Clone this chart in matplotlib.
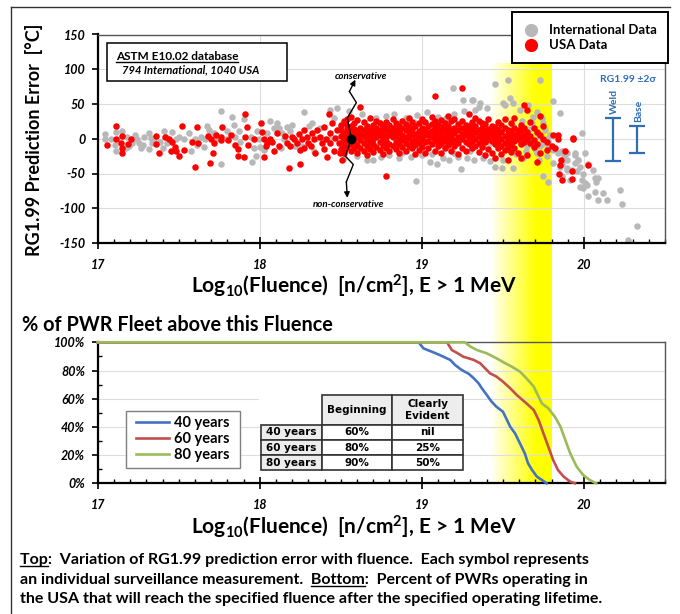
import matplotlib
matplotlib.use('Agg')
import matplotlib.pyplot as plt
import numpy as np
from matplotlib.colors import LinearSegmentedColormap
from matplotlib.lines import Line2D
from matplotlib.patches import Rectangle

plt.rcParams['font.family'] = ['Lato', 'DejaVu Sans']
plt.rcParams['mathtext.default'] = 'regular'

# ---------------- top panel: RG1.99 prediction error vs log10 fluence
# international data (x = log10 fluence, y = error degC)
intl_pts = [
    (17.045, 7), (17.045, -1), (17.08, 0), (17.115, 9), (17.115, -18), (17.148, 11),
    (17.183, 3), (17.214, -6), (17.23, 6), (17.245, -1), (17.255, -6), (17.265, -13),
    (17.28, -9), (17.285, 3), (17.316, 8), (17.326, 1), (17.333, -6), (17.316, -15),
    (17.347, -1), (17.382, -4), (17.409, 11), (17.419, 3), (17.43, -6), (17.46, 9),
    (17.48, -1), (17.532, -1), (17.563, 8), (17.573, -18), (17.6, -1), (17.614, -9),
    (17.635, 3), (17.655, -12), (17.676, 18), (17.686, 13), (17.717, 8), (17.737, 1),
    (17.758, 40), (17.758, -37), (17.665, -1), (17.5, 3), (17.193, -11), (17.107, -9),
    (17.173, -13), (17.4, -13),
    (17.799, 11), (17.799, -1), (17.83, 32), (17.84, 20), (17.85, 3), (17.87, 11),
    (17.88, -4), (17.9, 28), (17.943, 2), (17.963, -14), (17.974, -25), (17.953, -33),
    (17.984, 11), (17.994, -1), (18.004, -12), (18.066, 26), (18.087, 15), (18.107, 23),
    (18.117, 15), (18.138, 8), (18.148, -1), (18.169, 17), (18.189, 11), (18.2, 20),
    (18.22, -11), (18.26, -10), (18.271, 39), (18.302, 18), (18.323, 23), (18.354, 1),
    (18.374, 15), (18.436, 42), (18.456, 30), (18.477, 44), (18.497, 15), (18.333, -18),
    (18.425, -1), (18.128, -14), (18.045, 8), (18.025, -16),
    (18.52, -28), (18.55, 40), (18.6, -25), (18.63, 35), (18.66, -30), (18.70, -30),
    (18.72, 30), (18.75, -26), (18.78, 33), (18.8, -24), (18.83, 36), (18.86, -28),
    (18.9, 30), (18.914, 59), (18.93, -26), (18.965, -61), (18.97, 34), (19.0, -24),
    (19.03, 38), (19.05, -33), (19.093, -36), (19.1, 32), (19.13, -27), (19.15, 30),
    (19.165, -30), (19.19, 73), (19.2, 36), (19.22, -26), (19.24, -44), (19.253, 56),
    (19.26, 40), (19.28, -28), (19.31, 56), (19.32, -30), (19.33, 42), (19.35, 46),
    (19.36, 51), (19.38, -27), (19.4, 44), (19.42, -32), (18.68, -18), (18.88, -20),
    (19.06, -22), (19.2, -20), (19.3, -18), (18.74, 22), (18.95, 24), (19.12, 25),
    (19.452, 79), (19.534, 85), (19.729, 84), (19.318, 56), (19.503, 51), (19.514, 49),
    (19.544, 58), (19.565, 52), (19.606, 42), (19.657, 49), (19.709, 39), (19.688, 32),
    (19.811, 55), (19.853, 37), (19.986, 8), (20.007, -21), (19.945, -23), (19.965, -30),
    (20.027, -37), (20.058, -45), (20.089, -57), (19.976, -69), (20.017, -66), (19.853, -40),
    (19.894, -45), (19.914, -59), (19.781, -62), (19.75, -54), (19.565, -42), (19.493, -42),
    (19.452, -40), (19.503, -30), (19.627, -28), (19.709, -21), (19.77, -25), (19.729, -11),
    (19.77, -1), (19.75, 23), (19.709, 8), (19.668, 3), (19.606, -4), (19.647, -11),
    (19.544, -16), (19.421, -6), (19.38, -11), (19.339, 3), (19.493, 13), (19.565, 18),
    (19.811, -35), (19.842, -20), (19.894, -20), (19.924, -45), (19.811, -16),
    (19.6, 10), (19.62, 0), (19.64, -18), (19.66, 14), (19.68, -6), (19.7, -15),
    (19.72, 4), (19.74, -8), (19.76, 12), (19.78, -14), (19.79, 5), (19.58, -22),
    (19.56, 6), (19.68, 22), (19.72, -30), (19.62, 25), (19.74, 30), (19.78, -4),
    (19.863, -18), (19.874, -23), (19.894, -30), (19.945, -21), (19.966, -30), (19.945, -35),
    (19.976, -40), (19.956, -47), (19.997, -50), (19.986, -59), (20.007, -64), (19.997, -71),
    (20.069, -57), (20.075, -62), (20.12, -78), (20.089, -88), (20.028, -83), (20.069, -76),
    (20.14, -88), (20.223, -74), (20.233, -94), (20.325, -125), (20.274, -145), (19.863, -37),
    (19.894, -42), (19.863, -54),
]

# USA data, sparse part
usa_pts = [
    (17.115, 19), (17.06, -9), (17.115, 0), (17.146, -6), (17.15, 4), (17.148, -13),
    (17.15, -20), (17.185, -7), (17.205, 0), (17.36, 4), (17.36, -8), (17.38, -20),
    (17.415, 3), (17.44, 0), (17.46, -5), (17.475, -12), (17.45, -17), (17.48, -18),
    (17.5, -25), (17.52, 18), (17.53, -16), (17.58, -5), (17.6, -40), (17.61, 17),
    (17.62, -6), (17.68, 4), (17.70, 0), (17.71, -20), (17.69, -35), (17.72, -6),
    (17.73, 6), (17.76, -2),
    (17.768, 17), (17.762, 3), (17.803, -2), (17.82, 6), (17.85, -9), (17.865, -15),
    (17.865, -25), (17.91, 36), (17.92, 17), (17.91, 3), (17.93, -9), (17.9, -26),
    (17.963, -1), (18.008, 23), (18.015, 9), (18.025, -1), (18.04, -11), (18.045, -6),
    (18.066, -1), (18.029, -26), (18.076, -5), (18.087, -18), (18.107, 8), (18.117, -10),
    (18.158, 4), (18.169, -6), (18.179, -42), (18.189, -11), (18.2, 3), (18.214, -1),
    (18.23, -6), (18.24, 7), (18.25, -16), (18.25, -36), (18.26, -1), (18.271, 13),
    (18.271, -14), (18.292, 3), (18.296, -6), (18.313, -11), (18.323, 8), (18.333, -1),
    (18.343, -21), (18.354, 13), (18.374, 3), (18.384, -6), (18.395, 17), (18.399, -15),
    (18.411, 0), (18.415, -26), (18.425, 35), (18.436, 8), (18.436, -6), (18.446, 23),
    (18.456, -18), (18.467, 1), (18.477, 13), (18.487, -6), (18.497, -21), (18.508, -30),
    (18.518, -1), (18.528, 23), (18.538, 8), (18.522, -14),
    (19.80, -10), (19.811, 6), (19.822, -14), (19.842, 6), (19.842, -1), (19.853, -38),
    (19.848, -50), (19.863, -59), (20.028, -38), (19.935, 1), (19.93, -1), (19.925, -46),
    (19.925, -58), (19.88, -18), (19.86, -30),
]

# USA data, dense part: columns of (log10 fluence, errors)
usa_cols = [
    (18.50, [-6, 4, 12, -15, 20]), (18.52, [0, 8, -10, 25, -20]),
    (18.54, [5, -3, 15, -12, 28]), (18.56, [-8, 2, 10, 18, -18, 32]),
    (18.58, [6, -5, 22, -14, 0, 14]), (18.60, [3, -9, 11, 27, -20]),
    (18.62, [-2, 7, 16, -13, 46]), (18.64, [4, -6, 12, 24, -17]),
    (18.66, [-1, 9, 19, -11, -24]), (18.68, [6, -4, 14, 30, -15]),
    (18.70, [0, 10, -8, 20, -19]), (18.72, [3, -12, 16, 8, 26]),
    (18.74, [-5, 5, 12, -16, 22]), (18.76, [1, 9, -9, 18, -22]),
    (18.78, [4, -3, 14, -54, 24, -14]), (18.80, [-7, 6, 11, 20, -18]),
    (18.82, [2, -10, 16, 8, 28]), (18.84, [-4, 5, 13, -15, 23]),
    (18.86, [0, 10, -8, 18, -21]), (18.88, [6, -2, 15, 25, -12]),
    (18.90, [-6, 3, 12, -17, 21]), (18.92, [1, 9, -10, 17, 30]),
    (18.94, [5, -4, 14, -14, 24]), (18.96, [-2, 7, 19, -9, -22]),
    (18.98, [3, 11, -6, 22, -16]), (19.00, [0, 8, 16, -12, 28]),
    (19.02, [5, -5, 13, 24, -20]), (19.04, [-3, 6, 18, -14, 10]),
    (19.06, [2, 11, -8, 21, 31]), (19.08, [7, -2, 15, 61, -17, 26]),
    (19.10, [-4, 4, 12, 20, -11]), (19.12, [1, 9, -7, 17, 27, -21]),
    (19.14, [6, -3, 14, 23, -13]), (19.16, [0, 10, -9, 19, 33]),
    (19.18, [4, -5, 13, 25, -18]), (19.20, [-2, 8, 16, -10, 29]),
    (19.22, [3, 12, -6, 21, -22]), (19.25, [7, -1, 15, 73, -14, 26]),
    (19.27, [-4, 5, 12, 20, -18]), (19.29, [2, 10, -8, 18, 35]),
    (19.31, [6, -3, 14, 24, -13]), (19.33, [0, 9, -10, 19, 30]),
    (19.35, [4, -6, 13, 26, -19]), (19.37, [-2, 8, 16, -12, 22]),
    (19.39, [3, 11, -5, 21, -24]), (19.41, [7, -1, 14, -15, 28]),
    (19.43, [-3, 5, 12, 19, -20]), (19.45, [1, 9, -8, 17, -27]),
    (19.47, [5, -4, 13, 24, -14]), (19.49, [0, 10, -10, 20, -22]),
    (19.51, [4, -6, 15, 28, -16]), (19.53, [-2, 7, 12, -12, -30]),
    (19.55, [2, 11, -7, 22, -19]), (19.57, [6, -3, 16, -14, 30]),
    (19.59, [-1, 8, 13, -20, 3]), (19.61, [3, 12, -8, 20, -27]),
    (19.63, [49, 5, -4, 15]), (19.65, [0, 9, 42, -24]),
    (19.67, [4, -6, 24]), (19.69, [-2, 16, -12]),
    (19.71, [10, -8, -33]), (19.73, [6, -20, 33]),
    (19.75, [0, 18]), (19.77, [-5, -16]),
]

# RG1.99 +/- 2 sigma bars
sigma_names = ['Weld', 'Base']
sigma_x = [20.18, 20.325]
sigma_hi = [30, 19]
sigma_lo = [-32, -21]

# ---------------- bottom panel: % of PWR fleet above this fluence
fleet_labels = ['40 years', '60 years', '80 years']
fleet_colors = ['#4472C4', '#C0504D', '#9BBB59']
fleet_x = [
    [17.0, 18.98, 19.01, 19.06, 19.11, 19.175, 19.205, 19.245, 19.29, 19.32, 19.35, 19.37,
     19.40, 19.43, 19.46, 19.50, 19.52, 19.545, 19.575, 19.595, 19.615, 19.635, 19.655,
     19.68, 19.71, 19.74, 19.77],
    [17.0, 19.155, 19.185, 19.215, 19.255, 19.32, 19.36, 19.39, 19.42, 19.46, 19.50, 19.545,
     19.585, 19.645, 19.69, 19.72, 19.75, 19.78, 19.81, 19.84, 19.875, 19.915, 19.945],
    [17.0, 19.265, 19.30, 19.34, 19.40, 19.46, 19.515, 19.555, 19.605, 19.645, 19.69, 19.72,
     19.74, 19.78, 19.82, 19.855, 19.885, 19.915, 19.955, 19.995, 20.035, 20.075],
]
fleet_pct = [
    [100, 100, 95.7, 93.4, 91, 87.5, 83.9, 80.4, 77.6, 74.5, 70.9, 67.4, 62.7, 57.9, 54.3,
     50.8, 46.1, 40.1, 35.4, 30.7, 26, 21.2, 14.2, 9.4, 4.7, 2.4, 0],
    [100, 100, 94.5, 92.6, 89.8, 87.5, 85.1, 81.6, 78, 75.7, 72.1, 67.4, 62.7, 56.7, 52, 45,
     35.4, 26, 16.5, 9.4, 4.7, 1.2, 0],
    [100, 100, 96.9, 94.5, 92.2, 88.7, 85.1, 82.7, 79.2, 74.5, 68.6, 61.5, 56.7, 53.2, 47.3,
     40.2, 30.7, 21.3, 11.8, 5.9, 2.4, 0],
]

table_rows = ['40 years', '60 years', '80 years']
table_cols = ['Beginning', 'Clearly\nEvident']
table_cells = [['60%', 'nil'], ['80%', '25%'], ['90%', '50%']]

# yellow highlight band (log10 fluence) and its top in degC
band_lo, band_hi, band_top = 19.42, 19.80, 108

xticks = [17, 18, 19, 20]
err_ticks = [-150, -100, -50, 0, 50, 100, 150]
pct_ticks = [0, 20, 40, 60, 80, 100]

W, H = 680, 614
fig = plt.figure(figsize=(W / 100, H / 100), dpi=100)


def frac(l, t, r, b):
    return [l / W, 1 - b / H, (r - l) / W, (b - t) / H]


def fx(x, y):
    return x / W, 1 - y / H


ax1 = fig.add_axes(frac(97.7, 34.5, 665, 243))
ax2 = fig.add_axes(frac(97.7, 342.3, 665, 483.3))
for ax in (ax1, ax2):
    ax.set_facecolor('none')
    ax.set_xlim(17, 20.5)
    for s in ('left', 'bottom'):
        ax.spines[s].set_linewidth(1.6)
        ax.spines[s].set_color('black')
    for s in ('top', 'right'):
        ax.spines[s].set_linewidth(1.0)
        ax.spines[s].set_color('#555555')
    ax.set_xticks(xticks, [str(t) for t in xticks], fontsize=9, fontweight='bold', fontstyle='italic')
    ax.set_xticks(np.arange(17, 20.55, 0.1), minor=True)
    ax.tick_params(axis='x', which='major', direction='inout', length=9, width=1.2, pad=7)
    ax.tick_params(axis='x', which='minor', direction='in', length=3, width=1)
    ax.tick_params(axis='y', which='major', direction='out', length=4, width=1.2, pad=5)
    ax.set_axisbelow(True)

ax1.set_ylim(-150, 150)
ax1.set_yticks(err_ticks, [str(t) for t in err_ticks], fontsize=9, fontweight='bold', fontstyle='italic')
ax1.grid(True, which='major', color='#DDDDDD', lw=0.8)

ax2.set_ylim(0, 100)
ax2.set_yticks(pct_ticks, [f'{t}%' for t in pct_ticks], fontsize=9, fontweight='bold', fontstyle='italic')
ax2.set_yticks(np.arange(10, 100, 20), minor=True)
ax2.tick_params(axis='y', which='minor', direction='in', length=3, width=1)
ax2.grid(True, which='major', axis='y', color='#DDDDDD', lw=0.8)

# background band spanning both panels
bg = fig.add_axes([0, 0, 1, 1], zorder=-10)
bg.set_xlim(0, W)
bg.set_ylim(0, H)
bg.axis('off')
x0 = ax1.transData.transform((band_lo, 0))[0]
x1 = ax1.transData.transform((band_hi, 0))[0]
yt = ax1.transData.transform((17, band_top))[1]
yb = ax2.transData.transform((17, 0))[1]
band_cmap = LinearSegmentedColormap.from_list('band', [(0, '#FFFFFF'), (0.75, '#FFFF00'), (1, '#FFFF00')])
bg.imshow(np.linspace(0, 1, 256).reshape(1, -1), extent=[x0, x1, yb, yt], aspect='auto', cmap=band_cmap)

# scatter
ix = [p[0] for p in intl_pts]
iy = [p[1] for p in intl_pts]
ux = [p[0] for p in usa_pts] + [x for x, ys in usa_cols for _ in ys]
uy = [p[1] for p in usa_pts] + [y for x, ys in usa_cols for y in ys]
ax1.scatter(ix, iy, s=22, c='#B8B8B8', linewidths=0, zorder=2)
ax1.scatter(ux, uy, s=22, c='#FF0000', linewidths=0, zorder=3)

# sigma bars
blue = '#2E6DB8'
ax1.errorbar(sigma_x, [0, 0], yerr=[np.negative(sigma_lo), sigma_hi], fmt='none',
             ecolor=blue, elinewidth=1.6, capsize=5.5, capthick=1.6, zorder=4)
for name, x, hi in zip(sigma_names, sigma_x, sigma_hi):
    ax1.text(x + 0.01, hi + 5, name, rotation=90, ha='center', va='bottom', color=blue,
             fontsize=7.5, fontweight='bold')
ax1.text(20.27, 85, 'RG1.99 \u00b12\u03c3', ha='center', va='center', color=blue,
         fontsize=7.5, fontweight='bold')

# conservative / non-conservative arrows
up_x, up_y = [18.565, 18.54, 18.596, 18.553, 18.59], [0, 30, 52, 68, 85]
dn_x, dn_y = [18.565, 18.528, 18.577, 18.534, 18.54], [0, -25, -37, -62, -85]
for xs, ys in ((up_x, up_y), (dn_x, dn_y)):
    ax1.plot(xs[:-1], ys[:-1], color='black', lw=1, zorder=5)
    ax1.annotate('', xy=(xs[-1], ys[-1]), xytext=(xs[-2], ys[-2]),
                 arrowprops=dict(arrowstyle='-|>', color='black', lw=1, mutation_scale=8,
                                 shrinkA=0, shrinkB=0), zorder=5)
ax1.plot(18.565, 0, 'o', color='black', ms=6, zorder=6)
ax1.text(18.627, 89, 'conservative', ha='center', va='center', fontsize=7,
         fontweight='bold', fontstyle='italic')
ax1.text(18.547, -95, 'non-conservative', ha='center', va='center', fontsize=7,
         fontweight='bold', fontstyle='italic')

# database box
ax1.add_patch(Rectangle((0.017, 0.778), 0.316, 0.183, transform=ax1.transAxes,
                        facecolor='white', edgecolor='black', lw=1.1, zorder=6))
astm = fig.text(*fx(116, 60), 'ASTM E10.02 database', fontsize=8.5, fontweight='bold',
                va='baseline', zorder=7)
fig.text(*fx(122, 73), '794 International, 1040 USA', fontsize=8, fontweight='bold',
         fontstyle='italic', va='baseline', zorder=7)

# top legend
h_int = Line2D([], [], marker='o', ls='', color='#B8B8B8', ms=8.5, label='International Data')
h_usa = Line2D([], [], marker='o', ls='', color='#FF0000', ms=8.5, label='USA Data')
leg1 = fig.legend(handles=[h_int, h_usa], loc='upper left', bbox_to_anchor=fx(511.7, 12.3),
                  frameon=True, fancybox=False, framealpha=1, edgecolor='black',
                  prop={'weight': 'bold', 'size': 9.5}, handlelength=1.2, handletextpad=0.7,
                  labelspacing=0.25, borderpad=0.9, borderaxespad=0)
leg1.get_frame().set_linewidth(1.4)

# bottom panel curves
for xs, ys, lab, col in zip(fleet_x, fleet_pct, fleet_labels, fleet_colors):
    ax2.plot(xs, ys, color=col, lw=1.9, label=lab, clip_on=False, zorder=3)

# legend box (drawn separately for its wide side padding)
ax2.add_patch(Rectangle((0.0494, 0.1106), 0.2015, 0.402, transform=ax2.transAxes,
                        facecolor='white', edgecolor='#7F7F7F', lw=1.0, zorder=4))
leg2 = ax2.legend(loc='center', bbox_to_anchor=(0.150, 0.312), frameon=False,
                  prop={'weight': 'bold', 'size': 10.5}, handlelength=2.3, handletextpad=0.35,
                  labelspacing=0.15, borderpad=0, borderaxespad=0)
leg2.set_zorder(5)

# table: cell sizes in axes fractions, bbox covers header + data columns
tbox = [0.3949, 0.0943, 0.2496, 0.532]
ax2.add_patch(Rectangle((0.2849, 0.4135), 0.110, 0.2128, transform=ax2.transAxes,
                        facecolor='white', edgecolor='none', zorder=1))
tab = ax2.table(cellText=table_cells, rowLabels=table_rows, colLabels=table_cols,
                cellLoc='center', rowLoc='center', colLoc='center', bbox=tbox)
tab.auto_set_font_size(False)
col_w = {-1: 0.110, 0: 0.1234, 1: 0.1262}
for (r, c), cell in tab.get_celld().items():
    cell.set_width(col_w[c])
    cell.set_height(0.2128 if r == 0 else 0.1064)
    cell.set_edgecolor('#333333')
    cell.set_linewidth(1.2)
    cell.set_facecolor('#EDEDED' if (r == 0 or c == -1) else 'white')
    cell.get_text().set_fontsize(7.5)
    cell.get_text().set_fontfamily('DejaVu Sans')
    cell.get_text().set_fontweight('bold')
tab.set_zorder(5)

# figure texts
fig.text(*fx(34, 140), 'RG1.99 Prediction Error  [\u00b0C]', rotation=90, ha='center',
         va='center', fontsize=13, fontweight='bold')
xlab = r'Log$_{10}$(Fluence)  [n/cm$^{2}$], E > 1 MeV'
fig.text(*fx(354, 286), xlab, ha='center', va='center', fontsize=15, fontweight='bold')
fig.text(*fx(354, 527), xlab, ha='center', va='center', fontsize=15, fontweight='bold')
fig.text(*fx(22, 325), '% of PWR Fleet above this Fluence', ha='left', va='center',
         fontsize=14.3, fontweight='bold')

cap1 = 'Top:  Variation of RG1.99 prediction error with fluence.  Each symbol represents'
cap2 = 'an individual surveillance measurement.  Bottom:  Percent of PWRs operating in'
cap3 = 'the USA that will reach the specified fluence after the specified operating lifetime.'
t1 = fig.text(*fx(20, 564), cap1, fontsize=11.5, fontweight='bold', va='baseline')
t2 = fig.text(*fx(20, 584), cap2, fontsize=11.5, fontweight='bold', va='baseline')
t3 = fig.text(*fx(20, 603), cap3, fontsize=11.5, fontweight='bold', va='baseline')

# frame lines of the original figure
fig.add_artist(Line2D([11 / W, 11 / W], [0, 1 - 7 / H], transform=fig.transFigure,
                      color='#333333', lw=1))
fig.add_artist(Line2D([11 / W, 670 / W], [1 - 7 / H, 1 - 7 / H], transform=fig.transFigure,
                      color='#333333', lw=1))

# underlines
renderer = fig.canvas.get_renderer()


def text_w(s, prop):
    return renderer.get_text_width_height_descent(s, prop, ismath=False)[0]


def underline(t, sub):
    s = t.get_text()
    prop = t.get_fontproperties()
    k = s.index(sub) + len(sub)
    end = text_w(s[:k], prop)
    start = end - text_w(sub, prop)
    xd, yd = fig.transFigure.transform(t.get_position())
    ya = yd - 2
    pts = fig.transFigure.inverted().transform([(xd + start, ya), (xd + end, ya)])
    fig.add_artist(Line2D(pts[:, 0], pts[:, 1], transform=fig.transFigure, color='black',
                          lw=1, zorder=8))


underline(astm, 'ASTM E10.02 database')
underline(t1, 'Top')
underline(t2, 'Bottom')

fig.savefig('out.png', dpi=100, facecolor='white')
